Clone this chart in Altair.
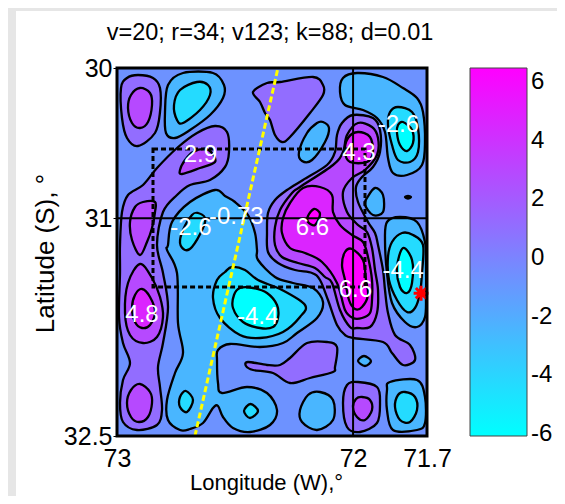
import altair as alt
import pandas as pd

FONT = "Liberation Sans"
PLOT_W, PLOT_H = 310, 368
LEFT, TOP = 117, 68          # digitising origin of the traced contours
PER_DEG_X, PER_DEG_Y = PLOT_W / 1.3, PLOT_H / 2.5

def lon_of(px):
    return 73 - (px - LEFT) / PER_DEG_X

def lat_of(py):
    return 30 + (py - TOP) / PER_DEG_Y

# colour value of each filled contour band (low to high)
BANDS = [-6.07, -4.28, -2.49, -0.69, 1.10, 2.89, 4.69, 6.48]
BACKGROUND_BAND = BANDS[3]

# traced contour rings
TL_OUT = [(138,75),(153,78),(160,88),(160,112),(155,133),(138,146),(127,138),(122,118),(121,88),(127,78)]
TL_IN = [(140,88),(150,93),(152,105),(148,122),(140,128),(132,123),(128,108),(131,95)]
TOPBLUE_OUT = [(183,73),(213,73),(224,85),(223,98),(210,115),(190,130),(175,138),(166,133),(165,112),(168,85)]
TOPBLUE_IN = [(197,82),(208,85),(210,95),(200,110),(183,123),(177,120),(174,105),(180,90)]
LEFT_COL = [(215,126),(227,132),(229,152),(225,167),(210,180),(190,185),(177,195),(163,212),(157,245),(163,273),
            (168,307),(163,343),(158,367),(160,387),(162,410),(157,425),(137,430),(123,422),(120,403),(123,380),
            (130,363),(123,343),(119,317),(120,273),(120,245),(122,212),(128,195),(143,185),(157,168),(177,148),(197,133)]
LEFT_MID = [(155,202),(155,212),(152,228),(147,242),(140,255),(132,240),(130,222),(135,207),(143,202)]
RIDGE_29 = [(212,153),(215,162),(200,168),(182,174),(180,170),(185,160),(193,152),(205,149)]
LEFT_48 = [(140,264),(152,278),(160,297),(163,317),(157,337),(143,343),(130,335),(125,313),(128,283)]
LEFT_48_IN = [(142,289),(150,297),(155,312),(150,325),(142,328),(135,322),(132,308),(135,295)]
LEFT_BOT = [(140,384),(150,392),(152,403),(148,417),(139,422),(131,417),(127,403),(131,390)]
TOP_MID = [(267,83),(253,92),(260,102),(265,113),(270,120),(275,135),(282,142),(290,137),(310,113),(323,95),(323,85),(313,77),(280,82)]
TR_OUT = [(340,92),(343,78),(357,73),(383,77),(403,88),(417,98),(423,112),(425,142),(422,165),(407,175),(393,173),
          (388,158),(385,132),(377,118),(363,110),(345,105)]
TR_MID = [(398,107),(412,112),(418,128),(418,152),(410,162),(398,160),(392,145),(388,125),(390,112)]
TR_IN = [(403,122),(412,130),(413,143),(407,151),(400,145),(397,133),(398,125)]
UPPER_BLUE = [(323,122),(329,128),(325,142),(312,160),(302,161),(299,152),(307,133),(317,123)]
SMALL_BLUE = [(367,198),(375,188),(383,195),(383,212),(373,215),(365,205)]
TINY = [(405,197),(408,196),(411,197),(408,198.5)]
CENTER_C2 = [(215,190),(225,196),(235,202),(248,215),(255,233),(257,250),(258,260),(275,277),(293,283),(313,288),
             (323,302),(317,318),(297,333),(283,343),(260,347),(230,344),(218,350),(217,360),(218,383),(222,393),
             (247,387),(267,393),(277,410),(270,425),(250,432),(233,428),(223,417),(218,406),(213,408),(203,423),
             (190,429),(180,430),(168,420),(167,400),(175,373),(183,353),(178,323),(177,273),(167,250),(168,245),
             (172,222),(190,202)]
NEAR_26 = [(198,213),(205,218),(203,228),(192,247),(185,250),(180,243),(183,230),(192,215)]
C1_44 = [(225,272),(232,267),(245,270),(258,280),(282,290),(305,305),(300,317),(283,332),(260,338),(240,335),(220,318),(213,298),(217,280)]
C0_44 = [(240,288),(253,288),(267,293),(277,305),(278,318),(273,327),(260,328),(243,322),(233,308),(234,295)]
SPOT_A = [(250.5,404),(258,411),(250,418),(244,411)]
SPOT_B = [(186,391),(193,400),(187,412),(180,407),(180,397)]
ISLAND = [(248,362),(267,365),(280,365),(290,358),(307,343),(327,342),(337,347),(335,367),(333,372),(310,378),(290,383),(273,373),(253,370),(246,366)]
BOT_BLUE = [(320,392),(333,400),(333,420),(317,430),(302,422),(300,410),(308,395)]
BOT_PUR_OUT = [(358,382),(377,387),(380,403),(377,423),(360,432),(347,427),(343,403),(347,385)]
BOT_PUR_IN = [(362,397),(370,400),(372,410),(365,420),(357,417),(353,407),(356,399)]
BR_OUT = [(390,382),(417,380),(425,397),(425,423),(417,430),(393,430),(387,410),(387,390)]
BR_IN = [(405,392),(415,397),(417,410),(410,422),(400,420),(395,407),(398,395)]
TAIL_SPOT = [(364,356),(371,361),(365,366),(358,361)]
R_C2 = [(387,222),(400,217),(417,222),(425,242),(426,265),(426,295),(425,317),(417,327),(405,322),(392,303),(387,273),(385,240)]
R_C1 = [(392,242),(402,233),(413,235),(423,245),(422,273),(420,293),(415,308),(407,312),(397,300),(389,280),(388,257)]
R_C0 = [(403,248),(412,260),(412,283),(407,293),(400,287),(397,267)]
MAIN_C4 = [(353,115),(373,118),(380,130),(380,152),(373,167),(362,177),(356,187),(358,202),(368,222),(375,233),(378,245),
           (383,270),(385,290),(388,313),(395,335),(410,345),(415,360),(403,365),(392,353),(383,342),(353,338),(345,335),
           (337,325),(328,300),(320,280),(312,273),(295,270),(278,263),(268,252),(267,233),(268,213),(275,200),(287,190),
           (303,180),(327,165),(335,152),(337,135),(342,123)]
MAIN_C5 = [(358,123),(372,127),(378,138),(377,155),(365,170),(352,178),(343,192),(347,212),(358,225),(367,232),(372,248),
           (375,270),(378,290),(377,313),(370,327),(357,328),(350,327),(340,310),(332,283),(325,277),(315,268),(298,263),
           (282,257),(275,245),(275,227),(280,210),(292,193),(300,187),(333,165),(343,152),(347,135)]
TOP_C6 = [(358,132),(370,137),(373,152),(367,162),(350,162),(345,152),(348,138)]
MAIN_C6 = [(303,188),(320,187),(332,195),(333,212),(340,225),(352,235),(363,242),(368,257),(372,280),(372,300),(370,313),
           (362,318),(353,318),(345,310),(337,283),(322,262),(305,253),(290,248),(282,233),(283,218),(290,203)]
PEAK_A = [(314,209),(320,214),(315,225),(308,222),(308,216)]
PEAK_B = [(352,249),(363,260),(366,280),(368,295),(362,307),(355,309),(349,300),(345,280),(342,265),(345,252)]

# paint order, with the band index that fills each ring
RINGS = [
    (TL_OUT, 4), (TL_IN, 5), (TOPBLUE_OUT, 2), (TOPBLUE_IN, 1), (LEFT_COL, 4), (LEFT_MID, 5), (RIDGE_29, 5),
    (LEFT_48, 5), (LEFT_48_IN, 6), (LEFT_BOT, 5), (TOP_MID, 4), (TR_OUT, 2), (TR_MID, 1), (TR_IN, 0),
    (UPPER_BLUE, 2), (SMALL_BLUE, 2), (TINY, 2), (CENTER_C2, 2), (NEAR_26, 1), (C1_44, 1), (C0_44, 0),
    (SPOT_A, 1), (SPOT_B, 1), (ISLAND, 4), (BOT_BLUE, 2), (BOT_PUR_OUT, 4), (BOT_PUR_IN, 5), (BR_OUT, 2),
    (BR_IN, 1), (TAIL_SPOT, 2), (R_C2, 2), (R_C1, 1), (R_C0, 0), (MAIN_C4, 4), (MAIN_C5, 5), (TOP_C6, 6),
    (MAIN_C6, 6), (PEAK_A, 7), (PEAK_B, 7),
]

# contour labels: text, longitude, latitude
LABEL_TEXT = ["2.9", "4.3", "-2.6", "-2.6", "-0.73", "6.6", "6.6", "4.8", "-4.4", "-4.4"]
LABEL_LON = [72.65, 71.985, 71.82, 72.69, 72.50, 72.18, 72.0, 72.895, 72.41, 71.80]
LABEL_LAT = [30.59, 30.58, 30.39, 31.09, 31.01, 31.09, 31.51, 31.68, 31.69, 31.38]

SECTION_LON = [72.325, 72.673]
SECTION_LAT = [30.0, 32.5]
BOX_LON = [72.849, 71.96]
BOX_LAT = [30.55, 31.488]
STAR_LON, STAR_LAT = 71.725, 31.53
GRID_LON, GRID_LAT = 72.01, 31.02

X_TICKS = [73, GRID_LON, 71.7]
Y_TICKS = [30, GRID_LAT, 32.5]
BAR_TICKS = [-6, -4, -2, 0, 2, 4, 6]

rows = []
for ring_id, (ring, band) in enumerate(RINGS):
    for seq, (px, py) in enumerate(ring):
        rows.append({"ring": ring_id, "seq": seq, "lon": lon_of(px), "lat": lat_of(py), "band": BANDS[band]})
rings_df = pd.DataFrame(rows)

x_scale = alt.Scale(domain=[73, 71.7], nice=False, zero=False)
y_scale = alt.Scale(domain=[32.5, 30], nice=False, zero=False)
fill_scale = alt.Scale(domain=[BANDS[0], BANDS[-1]], range=["#00ffff", "#ff00ff"], nice=False, zero=False, interpolate="rgb")

extent = pd.DataFrame({"x1": [73], "x2": [71.7], "y1": [30], "y2": [32.5], "band": [BACKGROUND_BAND]})

x_q = alt.X("lon:Q", scale=x_scale)
y_q = alt.Y("lat:Q", scale=y_scale)

# page strips of the original figure window
strip_top = alt.Chart(extent).mark_rect(color="#e6e6e6", clip=False).encode(
    x=alt.value(-109), x2=alt.value(440), y=alt.value(-60), y2=alt.value(-57))
strip_left = alt.Chart(extent).mark_rect(color="#e6e6e6", clip=False).encode(
    x=alt.value(-109), x2=alt.value(-101), y=alt.value(-60), y2=alt.value(428))

base = alt.Chart(extent).mark_rect(stroke=None).encode(
    x=alt.X("x1:Q", scale=x_scale, axis=alt.Axis(
        values=X_TICKS, title="Longitude (W),°", grid=False, domain=False, ticks=False,
        labelExpr="datum.value == 72.01 ? '72' : '' + datum.value",
        labelFont=FONT, labelFontSize=25, labelColor="black", labelPadding=10, labelFlush=False,
        labelOverlap=False, titleFont=FONT, titleFontSize=22, titleFontWeight="normal", titleColor="black",
        titleX=149, titleY=46, titleAlign="center", titleBaseline="middle")),
    x2="x2:Q",
    y=alt.Y("y1:Q", scale=y_scale, axis=alt.Axis(
        values=Y_TICKS, title="Latitude (S), °", grid=False, domain=False, tickSize=4,
        labelExpr="datum.value == 31.02 ? '31' : '' + datum.value",
        tickColor="black", labelFont=FONT, labelFontSize=25, labelColor="black", labelPadding=1, labelFlush=False,
        labelOverlap=False, titleFont=FONT, titleFontSize=26, titleFontWeight="normal", titleColor="black",
        titleX=-72, titleY=185, titleBaseline="middle")),
    y2="y2:Q",
    fill=alt.Fill("band:Q", scale=fill_scale, legend=alt.Legend(
        orient="none", legendX=353, legendY=0, title=None, type="gradient", direction="vertical",
        gradientLength=PLOT_H, gradientThickness=57, gradientStrokeColor="#444444", gradientStrokeWidth=1,
        values=BAR_TICKS, labelExpr="'' + datum.value", labelFont=FONT, labelFontSize=24, labelColor="black",
        labelOffset=4, labelOverlap=False, padding=0)),
)

contours = alt.Chart(rings_df).mark_line(
    stroke="black", strokeWidth=2.3, interpolate="cardinal-closed", tension=0, clip=True, filled=True
).encode(
    x=x_q, y=y_q, detail="ring:N", order="seq:Q",
    fill=alt.Fill("band:Q", scale=fill_scale, legend=None),
)

grid_v = alt.Chart(pd.DataFrame({"lon": [GRID_LON]})).mark_rule(color="black", strokeWidth=2).encode(x=x_q)
grid_h = alt.Chart(pd.DataFrame({"lat": [GRID_LAT]})).mark_rule(color="black", strokeWidth=2).encode(y=y_q)

box = alt.Chart(pd.DataFrame({"x1": [BOX_LON[0]], "x2": [BOX_LON[1]], "y1": [BOX_LAT[0]], "y2": [BOX_LAT[1]]})).mark_rect(
    filled=False, stroke="black", strokeWidth=3, strokeDash=[5, 3]
).encode(x=alt.X("x1:Q", scale=x_scale), x2="x2:Q", y=alt.Y("y1:Q", scale=y_scale), y2="y2:Q")

section = alt.Chart(pd.DataFrame({"lon": SECTION_LON, "lat": SECTION_LAT})).mark_line(
    color="#ffff00", strokeWidth=3, strokeDash=[6, 3]
).encode(x=x_q, y=y_q)

labels = alt.Chart(pd.DataFrame({"t": LABEL_TEXT, "lon": LABEL_LON, "lat": LABEL_LAT})).mark_text(
    color="white", font=FONT, fontSize=24
).encode(x=x_q, y=y_q, text="t:N")

star = alt.Chart(pd.DataFrame({"lon": [STAR_LON], "lat": [STAR_LAT]})).mark_point(
    shape="M-1,0L1,0M0,-1L0,1M-.7,-.7L.7,.7M-.7,.7L.7,-.7", stroke="#ff0000", strokeWidth=3, size=220, filled=False, opacity=1
).encode(x=x_q, y=y_q)

frame = alt.Chart(extent).mark_rect(filled=False, stroke="black", strokeWidth=3).encode(
    x=alt.X("x1:Q", scale=x_scale), x2="x2:Q", y=alt.Y("y1:Q", scale=y_scale), y2="y2:Q")

chart = alt.layer(strip_top, strip_left, base, contours, grid_v, grid_h, box, section, labels, star, frame).properties(
    width=PLOT_W, height=PLOT_H,
    title=alt.Title("v=20; r=34; v123; k=88; d=0.01", font=FONT, fontSize=23.5, fontWeight="normal", color="black",
                    anchor="middle", offset=0, dy=36, dx=-2),
    padding={"left": 109, "top": 60, "right": 130, "bottom": 60},
    autosize=alt.AutoSizeParams(type="none"),
    background="white",
).resolve_scale(fill="shared").configure_view(stroke=None)

chart.save("out.html", embed_options={"renderer": "svg", "actions": False})
